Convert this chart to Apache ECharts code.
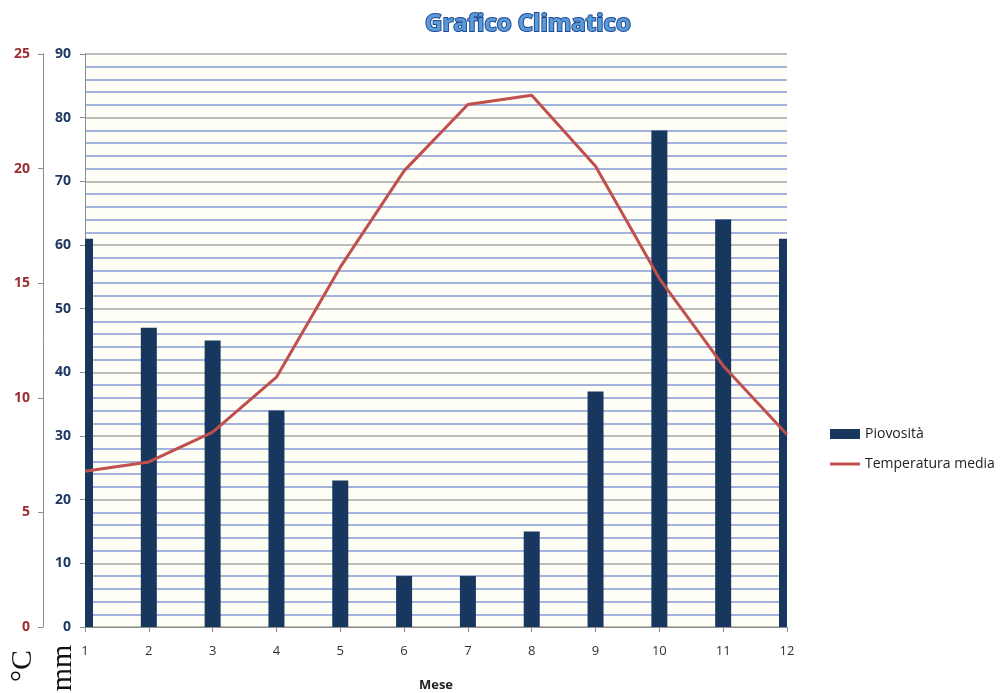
<!DOCTYPE html>
<html>
<head>
<meta charset="utf-8">
<title>Grafico Climatico</title>
<script src="https://cdn.jsdelivr.net/npm/echarts@6/dist/echarts.min.js"></script>
<style>
  html, body { margin: 0; padding: 0; background: #ffffff; }
  #chart { width: 1004px; height: 693px; }
</style>
</head>
<body>
<div id="chart"></div>
<script>
// Mesi dell'anno
const mesi = ['1', '2', '3', '4', '5', '6', '7', '8', '9', '10', '11', '12'];
// Precipitazioni mensili (mm)
const piovosita = [61, 47, 45, 34, 23, 8, 8, 15, 37, 78, 64, 61];
// Temperatura media mensile (°C)
const temperatura = [6.8, 7.2, 8.5, 10.9, 15.7, 19.9, 22.8, 23.2, 20.1, 15.2, 11.4, 8.4];

const chart = echarts.init(document.getElementById('chart'), null, { renderer: 'canvas' });

const axisGray = '#8c8c8c';
const BAR_WIDTH = 16;

// Columns centred on each month tick, cut to the plot area at both ends
function renderColonna(params, api) {
  const mese = api.value(0);
  const mm = api.value(1);
  const cima = api.coord([mese, mm]);
  const base = api.coord([mese, 0]);
  const cs = params.coordSys;
  const rect = echarts.graphic.clipRectByRect(
    { x: cima[0] - BAR_WIDTH / 2, y: cima[1], width: BAR_WIDTH, height: base[1] - cima[1] },
    { x: cs.x, y: cs.y, width: cs.width, height: cs.height }
  );
  return rect && { type: 'rect', shape: rect, style: api.style() };
}

chart.setOption({
  animation: false,
  backgroundColor: '#ffffff',
  title: {
    text: 'Grafico Climatico',
    left: 420,
    top: 7,
    textStyle: {
      fontFamily: 'Open Sans',
      fontWeight: 'bold',
      fontSize: 24,
      color: '#5b9bd5',
      textBorderColor: '#1f4a96',
      textBorderWidth: 2
    }
  },
  legend: {
    orient: 'vertical',
    left: 825,
    top: 422,
    itemWidth: 30,
    itemHeight: 10,
    itemGap: 16,
    textStyle: { fontFamily: 'Open Sans', fontSize: 14, color: '#222222' },
    data: [
      { name: 'Piovosità', icon: 'rect' },
      { name: 'Temperatura media', icon: 'path://M0,0 H30 V3 H0 Z' }
    ]
  },
  grid: {
    left: 85,
    right: 217,
    top: 54,
    bottom: 66,
    outerBoundsMode: 'none',
    containLabel: false,
    show: true,
    borderWidth: 0,
    backgroundColor: '#fffef6'
  },
  xAxis: {
    type: 'category',
    data: mesi,
    boundaryGap: false,
    name: 'Mese',
    nameLocation: 'middle',
    nameGap: 52,
    nameTextStyle: { fontFamily: 'Open Sans', fontWeight: 'bold', fontSize: 13, color: '#222222' },
    axisLine: { lineStyle: { color: axisGray, width: 1 } },
    axisTick: { show: true, length: 5, lineStyle: { color: axisGray } },
    axisLabel: { fontFamily: 'Open Sans', fontSize: 13, color: '#333333', margin: 18 },
    splitLine: { show: false }
  },
  yAxis: [
    {
      type: 'value',
      position: 'left',
      min: 0,
      max: 90,
      interval: 10,
      axisLine: { show: true, lineStyle: { color: axisGray } },
      axisTick: { show: true, length: 5, lineStyle: { color: axisGray } },
      axisLabel: { fontFamily: 'Open Sans', fontWeight: 'bold', fontSize: 14, color: '#1f3864', margin: 14 },
      splitLine: { show: true, lineStyle: { color: '#a6a6a6', width: 1.5 } },
      minorTick: { show: false, splitNumber: 5 },
      minorSplitLine: { show: true, lineStyle: { color: '#a3b3dd', width: 2 } }
    },
    {
      type: 'value',
      position: 'left',
      offset: 42,
      min: 0,
      max: 25,
      interval: 5,
      axisLine: { show: true, lineStyle: { color: axisGray } },
      axisTick: { show: true, length: 5, lineStyle: { color: axisGray } },
      axisLabel: { fontFamily: 'Open Sans', fontWeight: 'bold', fontSize: 14, color: '#9b2d30', margin: 13 },
      splitLine: { show: false }
    }
  ],
  graphic: [
    {
      type: 'text',
      x: 23,
      y: 666,
      rotation: Math.PI / 2,
      style: {
        text: '°C',
        font: '30px "Liberation Serif", "DejaVu Serif", serif',
        fill: '#111111',
        textAlign: 'center',
        textVerticalAlign: 'middle'
      }
    },
    {
      type: 'text',
      x: 63,
      y: 668,
      rotation: Math.PI / 2,
      style: {
        text: 'mm',
        font: '30px "Liberation Serif", "DejaVu Serif", serif',
        fill: '#111111',
        textAlign: 'center',
        textVerticalAlign: 'middle'
      }
    }
  ],
  series: [
    {
      name: 'Piovosità',
      type: 'custom',
      yAxisIndex: 0,
      data: piovosita.map((v, i) => [i, v]),
      encode: { x: 0, y: 1 },
      renderItem: renderColonna,
      itemStyle: { color: '#17375e' },
      z: 2
    },
    {
      name: 'Temperatura media',
      type: 'line',
      yAxisIndex: 1,
      data: temperatura,
      symbol: 'none',
      lineStyle: { color: '#c0504d', width: 3 },
      itemStyle: { color: '#c0504d' },
      z: 3
    }
  ]
});
</script>
</body>
</html>
